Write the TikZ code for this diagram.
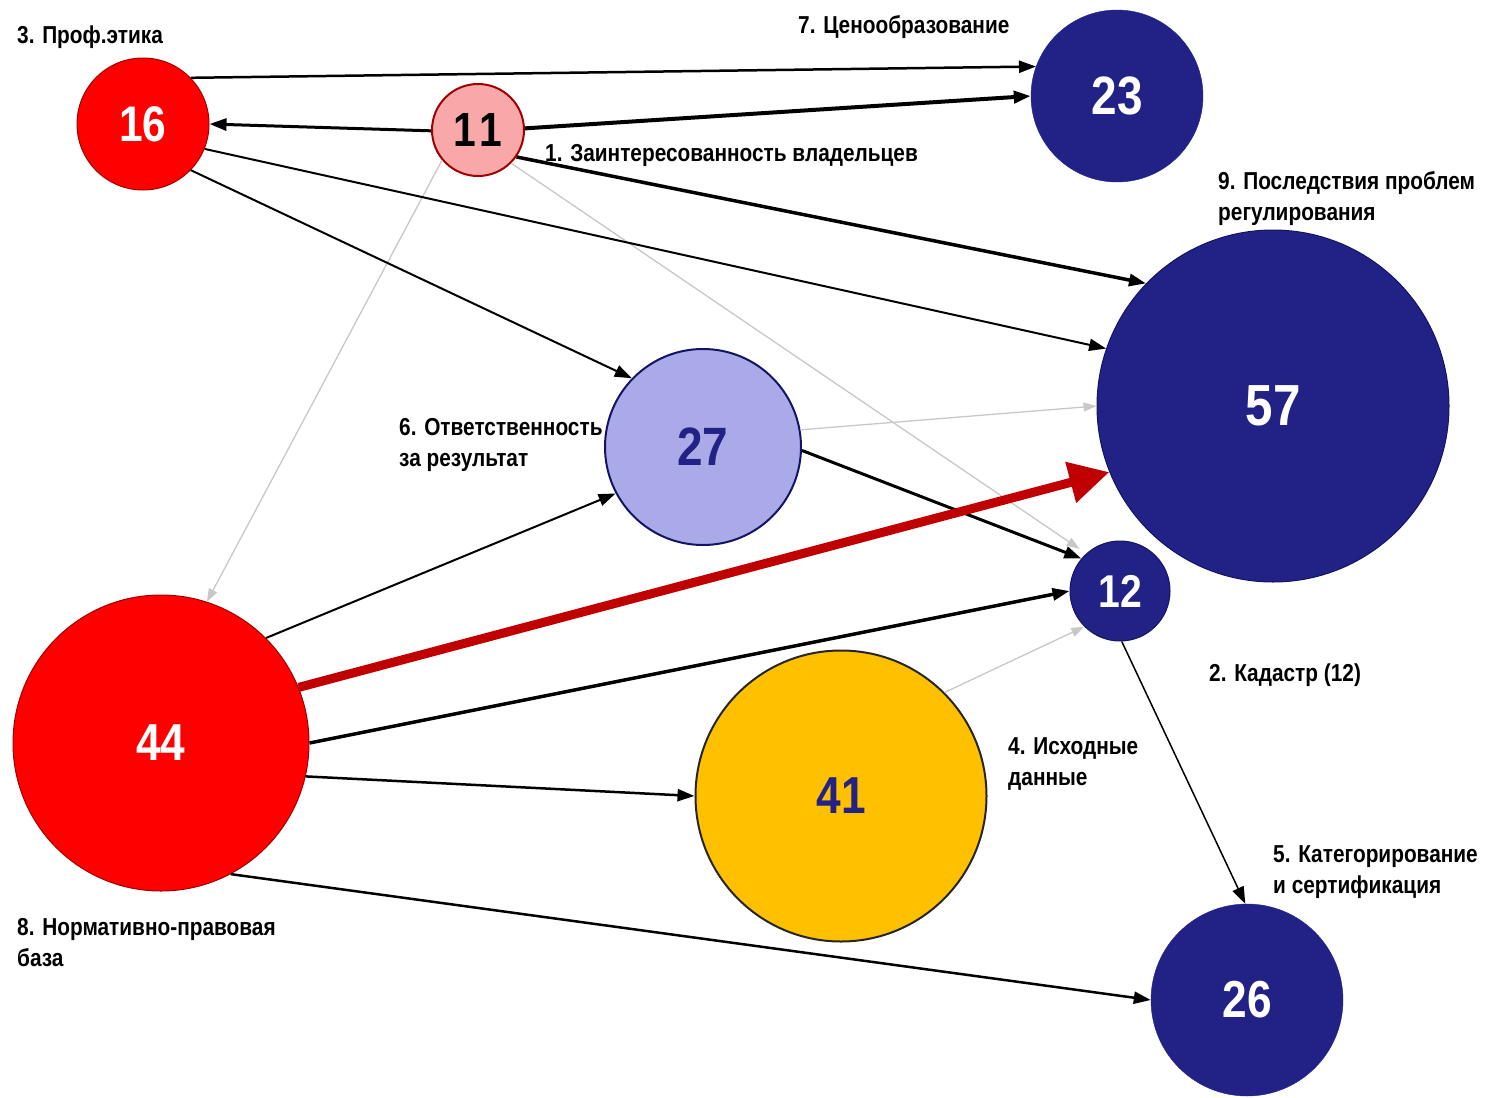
\documentclass[tikz,border=0pt]{standalone}
\usepackage{fontspec}
\setmainfont{Liberation Sans}[FakeStretch=0.85]
\usetikzlibrary{arrows.meta}
\definecolor{navy}{RGB}{34,34,134}
\definecolor{navyedge}{RGB}{20,20,100}
\definecolor{rednode}{RGB}{255,0,0}
\definecolor{rededge}{RGB}{160,0,0}
\definecolor{pink}{RGB}{248,168,168}
\definecolor{lav}{RGB}{170,170,232}
\definecolor{gold}{RGB}{255,192,0}
\definecolor{darkred}{RGB}{192,0,0}
\definecolor{lgray}{RGB}{200,200,200}
\begin{document}
\begin{tikzpicture}[x=1pt,y=-1pt,
  circ/.style={circle, inner sep=0pt, minimum size=#1},
  numf/.style={font=\bfseries\fontsize{#1}{#1}\selectfont},
  lbl/.style={font=\bfseries\fontsize{24.5}{31}\selectfont, align=left, inner sep=0pt, anchor=base west},
  ed/.style={draw=black, line width=#1, -{Triangle[length=17pt,width=12pt]}},
  gr/.style={draw=lgray, line width=1.3pt, -{Triangle[length=13pt,width=9pt]}},
  big/.style={draw=darkred, line width=9pt, -{Triangle[length=40pt,width=40pt]}}
]
\useasboundingbox (0,0) rectangle (1500,1098);
\fill[white] (0,0) rectangle (1500,1098);

% nodes
\node[circ=132pt, fill=rednode, draw=rededge, line width=1pt, text=white, numf=50] (n16) at (143,124) {16};
\node[circ=92pt, fill=pink, draw=rededge, line width=2pt, text=black, numf=48] (n11) at (478,130) {1\kern3pt 1};
\node[circ=172pt, fill=navy, draw=navy, text=white, numf=54] (n23) at (1117,96) {23};
\node[circ=352pt, fill=navy, draw=navyedge, line width=1pt, text=white, numf=58] (n57) at (1273,406) {57};
\node[circ=196pt, fill=lav, draw=navyedge, line width=2pt, text=navy, numf=54] (n27) at (703,447) {27};
\node[circ=100pt, fill=navy, draw=navyedge, line width=1pt, text=white, numf=46] (n12) at (1120,591) {12};
\node[circ=296pt, fill=rednode, draw=rededge, line width=1pt, text=white, numf=52] (n44) at (161,743) {44};
\node[circ=291pt, fill=gold, draw=black!85, line width=2pt, text=navy, numf=52] (n41) at (841,796) {41};
\node[circ=192pt, fill=navy, draw=navy, text=white, numf=52] (n26) at (1247,1000) {26};

% labels (anchor: baseline of last line)
\node[lbl] (l3) at (17,43) {3. Проф.этика};
\node[lbl] (l7) at (798,33) {7. Ценообразование};
\node[lbl] (l1) at (545,161) {1. Заинтересованность владельцев};
\node[lbl] (l9) at (1218,220) {9. Последствия проблем\\регулирования};
\node[lbl] (l6) at (399,466) {6. Ответственность\\за результат};
\node[lbl] (l2) at (1209,681) {2. Кадастр (12)};
\node[lbl] (l4) at (1008,785) {4. Исходные\\данные};
\node[lbl] (l5) at (1273,893) {5. Категорирование\\и сертификация};
\node[lbl] (l8) at (17,966) {8. Нормативно-правовая\\база};

% gray edges
\draw[gr] (n11.220) -- (n44.72);
\draw[gr, shorten >=8pt] (n11.-45) -- (n12.132);
\draw[gr] (n27.10) -- (n57.180);
\draw[gr] (n41.45) -- (n12.225);

% black edges
\draw[ed=2.5pt] (n16.44) -- (n23.160);
\draw[ed=3pt] (n11.181) -- (n16.0);
\draw[ed=4pt] (n11.2) -- (n23.180);
\draw[ed=3.5pt] (n11.-35) -- (n57.136);
\draw[ed=2pt] (n16.-22) -- (n57.161);
\draw[ed=2pt] (n16.-44) -- (n27.136);
\draw[ed=3pt] (n27.-2) -- (n12.140);
\draw[ed=2pt] (n44.45) -- (n27.208);
\draw[ed=3.5pt] (n44.0) -- (n12.180);
\draw[ed=2.5pt] (n44.-13) -- (n41.180);
\draw[ed=2.5pt] (n44.-62) -- (n26.180);
\draw[ed=1.5pt] (n12.-88) -- (n26.91);

% red main edge
\draw[big] (n44.22.6) -- (n57.202);
\end{tikzpicture}
\end{document}
